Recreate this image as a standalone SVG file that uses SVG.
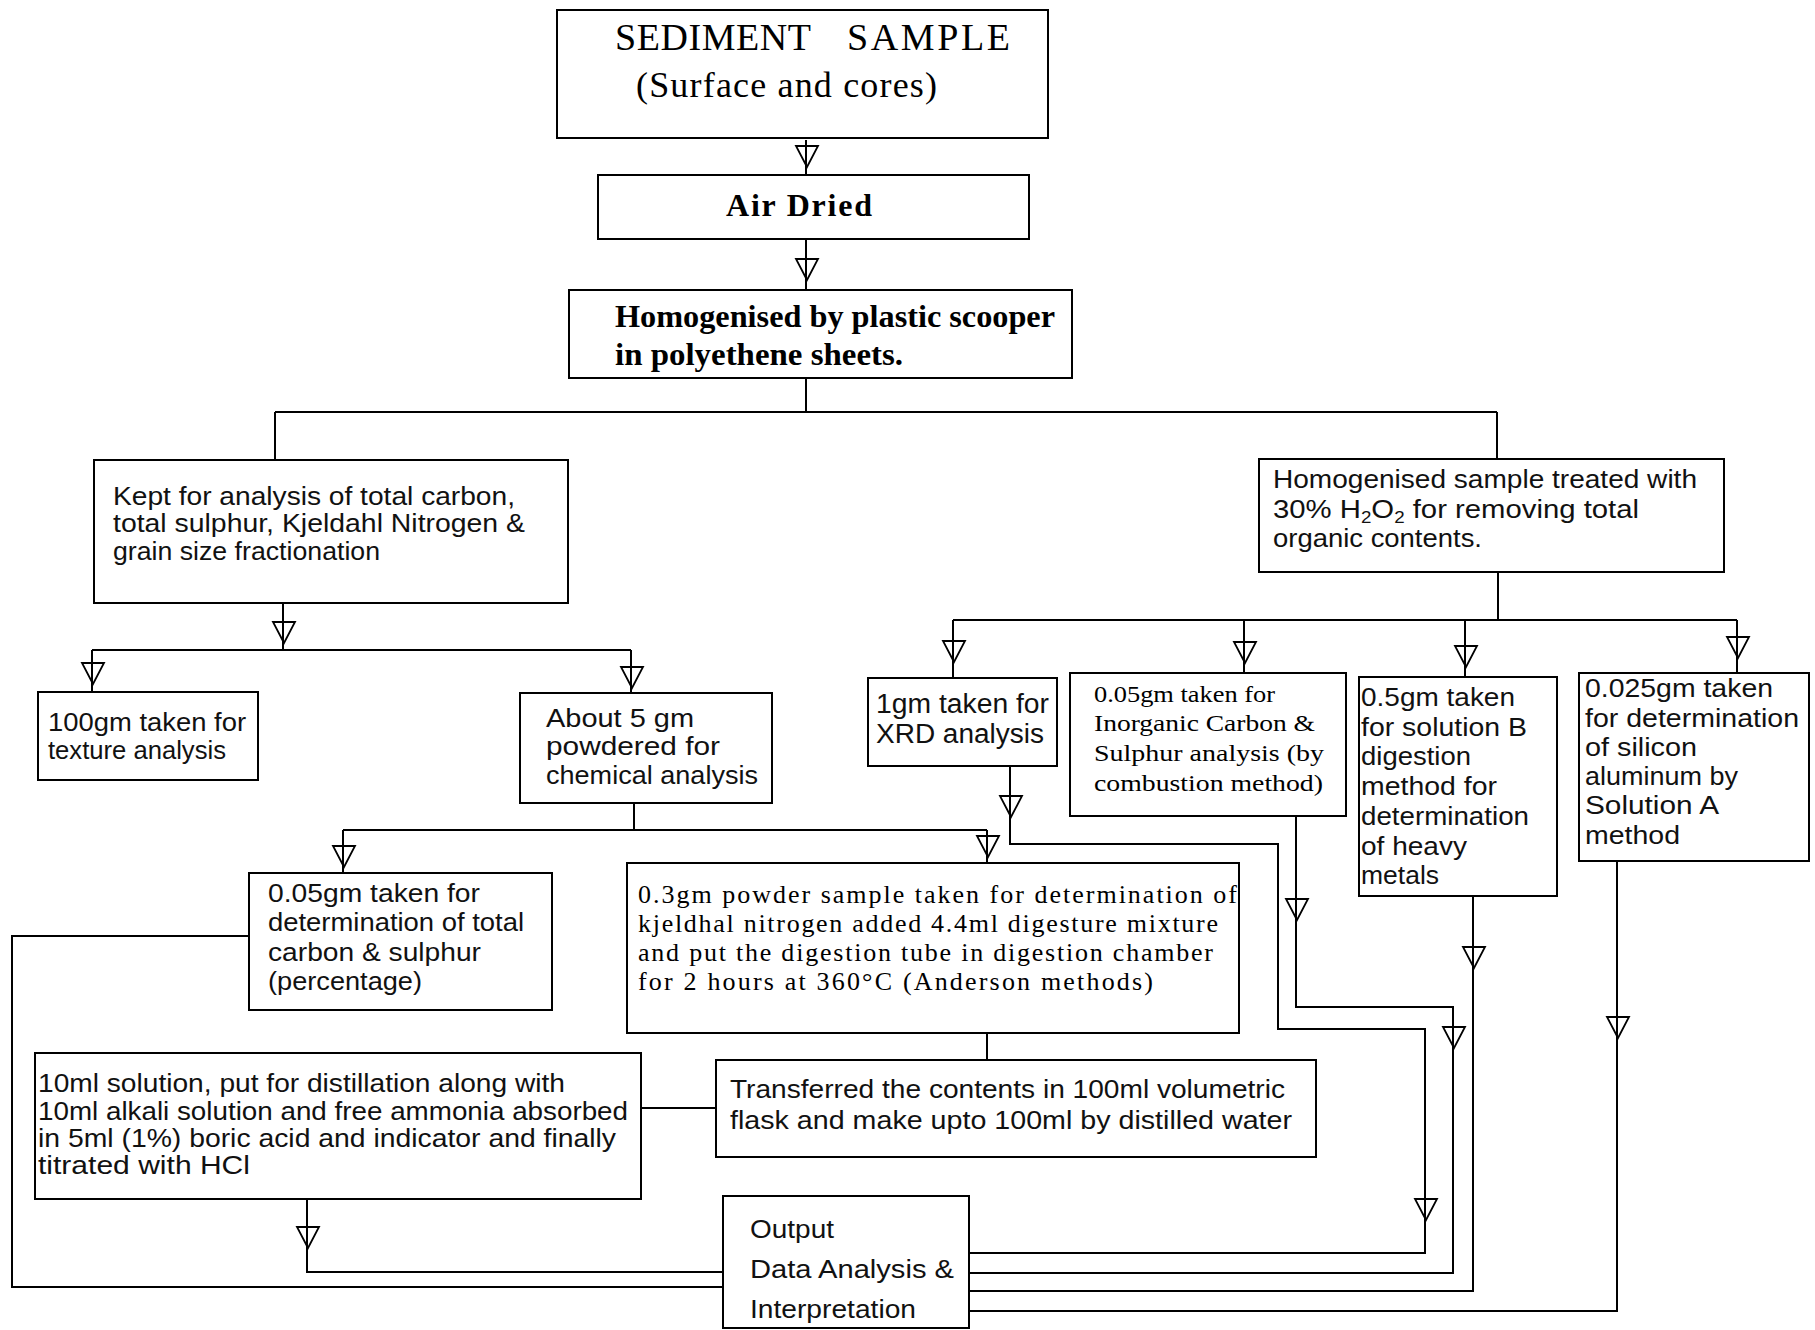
<svg xmlns="http://www.w3.org/2000/svg" width="1815" height="1330" viewBox="0 0 1815 1330">
<style>
.b{fill:none;stroke:#000;stroke-width:2}
.c{fill:none;stroke:#000;stroke-width:2}
.sf{font-family:"Liberation Serif",serif;fill:#000}
.ss{font-family:"Liberation Sans Narrow","Liberation Sans",sans-serif;fill:#111}
</style>
<defs>
<path id="ar" d="M-10,-21 L12,-21 L1,0 Z" fill="none" stroke="#000" stroke-width="1.8"/>
</defs>
<rect width="1815" height="1330" fill="#fff"/>

<g id="connectors">
<path class="c" d="M806,140 V175"/>
<path class="c" d="M806,239 V290"/>
<path class="c" d="M806,378 V412 M275,412 H1497 M275,412 V460 M1497,412 V459"/>
<path class="c" d="M283,603 V650 M92,650 H631 M92,650 V692 M631,650 V693"/>
<path class="c" d="M634,803 V830 M343,830 H987 M343,830 V873 M987,830 V863"/>
<path class="c" d="M987,1033 V1060"/>
<path class="c" d="M641,1108 H716"/>
<path class="c" d="M307,1199 V1272 H723"/>
<path class="c" d="M249,936 H12 V1287 H723"/>
<path class="c" d="M1498,572 V620 M953,620 H1737 M953,620 V678 M1244,620 V673 M1465,620 V677 M1737,620 V673"/>
<path class="c" d="M1010,766 V844 H1278 V1029 H1425 V1253 H969"/>
<path class="c" d="M1296,816 V1007 H1453 V1273 H969"/>
<path class="c" d="M1473,896 V1291 H969"/>
<path class="c" d="M1617,861 V1311 H969"/>
<use href="#ar" x="806" y="167"/>
<use href="#ar" x="806" y="280"/>
<use href="#ar" x="283" y="643"/>
<use href="#ar" x="92" y="684"/>
<use href="#ar" x="631" y="688"/>
<use href="#ar" x="343" y="867"/>
<use href="#ar" x="987" y="857"/>
<use href="#ar" x="953" y="662"/>
<use href="#ar" x="1244" y="663"/>
<use href="#ar" x="1465" y="667"/>
<use href="#ar" x="1737" y="658"/>
<use href="#ar" x="1010" y="817"/>
<use href="#ar" x="1425" y="1220"/>
<use href="#ar" x="1296" y="920"/>
<use href="#ar" x="1453" y="1048"/>
<use href="#ar" x="1473" y="968"/>
<use href="#ar" x="1617" y="1038"/>
<use href="#ar" x="307" y="1248"/>
</g>

<g id="n-sediment">
<rect class="b" x="557" y="10" width="491" height="128"/>
<text class="sf" x="615" y="50" font-size="38" textLength="196" lengthAdjust="spacing">SEDIMENT</text>
<text class="sf" x="847" y="50" font-size="38" textLength="163" lengthAdjust="spacing">SAMPLE</text>
<text class="sf" x="636" y="97" font-size="36" textLength="301" lengthAdjust="spacing">(Surface and cores)</text>
</g>

<g id="n-airdried">
<rect class="b" x="598" y="175" width="431" height="64"/>
<text class="sf" x="726" y="216" font-size="32" font-weight="bold" textLength="146" lengthAdjust="spacing">Air Dried</text>
</g>

<g id="n-homog">
<rect class="b" x="569" y="290" width="503" height="88"/>
<text class="sf" x="615" y="327" font-size="31" font-weight="bold" textLength="440" lengthAdjust="spacingAndGlyphs">Homogenised by plastic scooper</text>
<text class="sf" x="615" y="365" font-size="31" font-weight="bold" textLength="288" lengthAdjust="spacingAndGlyphs">in polyethene sheets.</text>
</g>

<g id="n-kept">
<rect class="b" x="94" y="460" width="474" height="143"/>
<text class="ss" x="113" y="505" font-size="25" textLength="402" lengthAdjust="spacingAndGlyphs">Kept for analysis of total carbon,</text>
<text class="ss" x="113" y="532" font-size="25" textLength="412" lengthAdjust="spacingAndGlyphs">total sulphur, Kjeldahl Nitrogen &amp;</text>
<text class="ss" x="113" y="560" font-size="25" textLength="267" lengthAdjust="spacingAndGlyphs">grain size fractionation</text>
</g>

<g id="n-texture">
<rect class="b" x="38" y="692" width="220" height="88"/>
<text class="ss" x="48" y="731" font-size="26" textLength="198" lengthAdjust="spacingAndGlyphs">100gm taken for</text>
<text class="ss" x="48" y="759" font-size="26" textLength="178" lengthAdjust="spacingAndGlyphs">texture analysis</text>
</g>

<g id="n-chem">
<rect class="b" x="520" y="693" width="252" height="110"/>
<text class="ss" x="546" y="727" font-size="26" textLength="148" lengthAdjust="spacingAndGlyphs">About 5 gm</text>
<text class="ss" x="546" y="755" font-size="26" textLength="174" lengthAdjust="spacingAndGlyphs">powdered for</text>
<text class="ss" x="546" y="784" font-size="26" textLength="212" lengthAdjust="spacingAndGlyphs">chemical analysis</text>
</g>

<g id="n-tcs">
<rect class="b" x="249" y="873" width="303" height="137"/>
<text class="ss" x="268" y="902" font-size="25" textLength="212" lengthAdjust="spacingAndGlyphs">0.05gm taken for</text>
<text class="ss" x="268" y="931" font-size="25" textLength="256" lengthAdjust="spacingAndGlyphs">determination of total</text>
<text class="ss" x="268" y="961" font-size="25" textLength="213" lengthAdjust="spacingAndGlyphs">carbon &amp; sulphur</text>
<text class="ss" x="268" y="990" font-size="25" textLength="154" lengthAdjust="spacingAndGlyphs">(percentage)</text>
</g>

<g id="n-kjeldahl">
<rect class="b" x="627" y="863" width="612" height="170"/>
<text class="sf" x="638" y="903" font-size="26" textLength="599" lengthAdjust="spacing">0.3gm powder sample taken for determination of</text>
<text class="sf" x="638" y="932" font-size="26" textLength="580" lengthAdjust="spacing">kjeldhal nitrogen added 4.4ml digesture mixture</text>
<text class="sf" x="638" y="961" font-size="26" textLength="575" lengthAdjust="spacing">and put the digestion tube in digestion chamber</text>
<text class="sf" x="638" y="990" font-size="26" textLength="515" lengthAdjust="spacing">for 2 hours at 360°C (Anderson methods)</text>
</g>

<g id="n-transfer">
<rect class="b" x="716" y="1060" width="600" height="97"/>
<text class="ss" x="730" y="1098" font-size="26" textLength="555" lengthAdjust="spacingAndGlyphs">Transferred the contents in 100ml volumetric</text>
<text class="ss" x="730" y="1129" font-size="26" textLength="562" lengthAdjust="spacingAndGlyphs">flask and make upto 100ml by distilled water</text>
</g>

<g id="n-distill">
<rect class="b" x="35" y="1053" width="606" height="146"/>
<text class="ss" x="38" y="1092" font-size="25" textLength="527" lengthAdjust="spacingAndGlyphs">10ml solution, put for distillation along with</text>
<text class="ss" x="38" y="1120" font-size="25" textLength="590" lengthAdjust="spacingAndGlyphs">10ml alkali solution and free ammonia absorbed</text>
<text class="ss" x="38" y="1147" font-size="25" textLength="578" lengthAdjust="spacingAndGlyphs">in 5ml (1%) boric acid and indicator and finally</text>
<text class="ss" x="38" y="1174" font-size="25" textLength="212" lengthAdjust="spacingAndGlyphs">titrated with HCl</text>
</g>

<g id="n-output">
<rect class="b" x="723" y="1196" width="246" height="132"/>
<text class="ss" x="750" y="1238" font-size="26" textLength="84" lengthAdjust="spacingAndGlyphs">Output</text>
<text class="ss" x="750" y="1278" font-size="26" textLength="204" lengthAdjust="spacingAndGlyphs">Data Analysis &amp;</text>
<text class="ss" x="750" y="1318" font-size="26" textLength="166" lengthAdjust="spacingAndGlyphs">Interpretation</text>
</g>

<g id="n-h2o2">
<rect class="b" x="1259" y="459" width="465" height="113"/>
<text class="ss" x="1273" y="488" font-size="25" textLength="424" lengthAdjust="spacingAndGlyphs">Homogenised sample treated with</text>
<text class="ss" x="1273" y="518" font-size="25" textLength="366" lengthAdjust="spacingAndGlyphs">30% H<tspan font-size="16" dy="5">2</tspan><tspan dy="-5">O</tspan><tspan font-size="16" dy="5">2</tspan><tspan dy="-5"> for removing total</tspan></text>
<text class="ss" x="1273" y="547" font-size="25" textLength="209" lengthAdjust="spacingAndGlyphs">organic contents.</text>
</g>

<g id="n-xrd">
<rect class="b" x="868" y="678" width="189" height="88"/>
<text class="ss" x="876" y="713" font-size="27" textLength="173" lengthAdjust="spacingAndGlyphs">1gm taken for</text>
<text class="ss" x="876" y="743" font-size="27" textLength="168" lengthAdjust="spacingAndGlyphs">XRD analysis</text>
</g>

<g id="n-inorg">
<rect class="b" x="1070" y="673" width="276" height="143"/>
<text class="sf" x="1094" y="702" font-size="23" textLength="181" lengthAdjust="spacingAndGlyphs">0.05gm taken for</text>
<text class="sf" x="1094" y="731" font-size="23" textLength="221" lengthAdjust="spacingAndGlyphs">Inorganic Carbon &amp;</text>
<text class="sf" x="1094" y="761" font-size="23" textLength="230" lengthAdjust="spacingAndGlyphs">Sulphur analysis (by</text>
<text class="sf" x="1094" y="791" font-size="23" textLength="229" lengthAdjust="spacingAndGlyphs">combustion method)</text>
</g>

<g id="n-solB">
<rect class="b" x="1359" y="677" width="198" height="219"/>
<text class="ss" x="1361" y="706" font-size="26" textLength="154" lengthAdjust="spacingAndGlyphs">0.5gm taken</text>
<text class="ss" x="1361" y="736" font-size="26" textLength="166" lengthAdjust="spacingAndGlyphs">for solution B</text>
<text class="ss" x="1361" y="765" font-size="26" textLength="110" lengthAdjust="spacingAndGlyphs">digestion</text>
<text class="ss" x="1361" y="795" font-size="26" textLength="136" lengthAdjust="spacingAndGlyphs">method for</text>
<text class="ss" x="1361" y="825" font-size="26" textLength="168" lengthAdjust="spacingAndGlyphs">determination</text>
<text class="ss" x="1361" y="855" font-size="26" textLength="106" lengthAdjust="spacingAndGlyphs">of heavy</text>
<text class="ss" x="1361" y="884" font-size="26" textLength="78" lengthAdjust="spacingAndGlyphs">metals</text>
</g>

<g id="n-solA">
<rect class="b" x="1579" y="673" width="230" height="188"/>
<text class="ss" x="1585" y="697" font-size="26" textLength="188" lengthAdjust="spacingAndGlyphs">0.025gm taken</text>
<text class="ss" x="1585" y="727" font-size="26" textLength="214" lengthAdjust="spacingAndGlyphs">for determination</text>
<text class="ss" x="1585" y="756" font-size="26" textLength="112" lengthAdjust="spacingAndGlyphs">of silicon</text>
<text class="ss" x="1585" y="785" font-size="26" textLength="153" lengthAdjust="spacingAndGlyphs">aluminum by</text>
<text class="ss" x="1585" y="814" font-size="26" textLength="134" lengthAdjust="spacingAndGlyphs">Solution A</text>
<text class="ss" x="1585" y="844" font-size="26" textLength="95" lengthAdjust="spacingAndGlyphs">method</text>
</g>
</svg>
